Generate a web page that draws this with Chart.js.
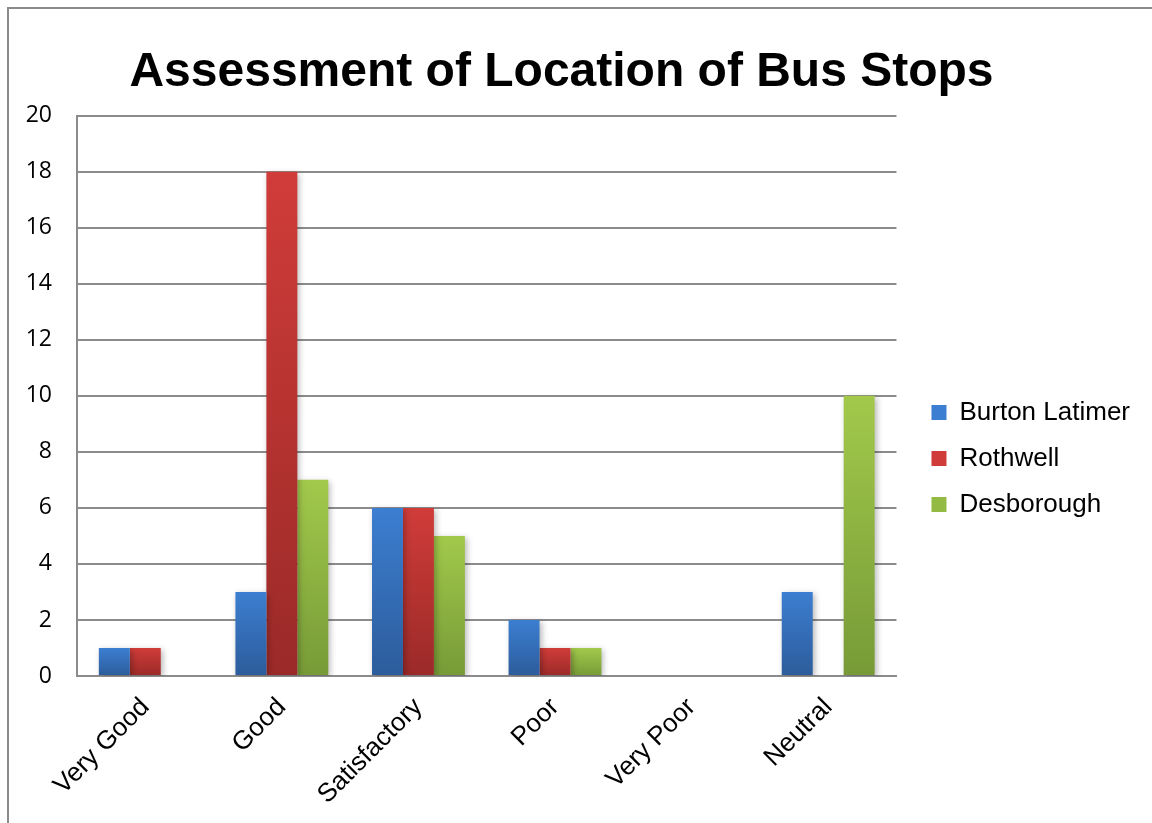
<!DOCTYPE html>
<html>
<head>
<meta charset="utf-8">
<script src="https://cdn.jsdelivr.net/npm/chart.js@4/dist/chart.umd.min.js"></script>
<style>
  html, body { margin: 0; padding: 0; background: #fff; overflow: hidden; }
  #wrap { position: relative; width: 1152px; height: 823px; }
  #frame { position: absolute; left: 7px; top: 7px; width: 1300px; height: 1000px;
           border: 2px solid #8a8a8a; box-sizing: border-box; }
  canvas { position: absolute; left: 0; top: 0; }
</style>
</head>
<body>
<div id="wrap">
  <div id="frame"></div>
  <canvas id="busChart" width="1152" height="823"></canvas>
</div>
<script>
'use strict';

// данные
const categories = ['Very Good', 'Good', 'Satisfactory', 'Poor', 'Very Poor', 'Neutral'];
const burtonLatimer = [1, 3, 6, 2, 0, 3];
const rothwell = [1, 18, 6, 1, 0, 0];
const desborough = [0, 7, 5, 1, 0, 10];
const yTicks = [0, 2, 4, 6, 8, 10, 12, 14, 16, 18, 20];

// gradient per bar: light on top, dark at the bottom
function barFill(top, bottom, solid) {
    return function (ctx) {
        const chart = ctx.chart;
        const y = chart.scales && chart.scales.y;
        if (ctx.type !== 'data' || !y || !ctx.raw) return solid;
        const y0 = y.getPixelForValue(ctx.raw);
        const y1 = y.getPixelForValue(0);
        if (!isFinite(y0) || !isFinite(y1) || y0 === y1) return solid;
        const g = chart.ctx.createLinearGradient(0, y0, 0, y1);
        g.addColorStop(0, top);
        g.addColorStop(1, bottom);
        return g;
    };
}

// soft shadow under bars
const barShadow = {
    id: 'barShadow',
    beforeDatasetsDraw(chart) {
        const c = chart.ctx;
        c.save();
        c.shadowColor = 'rgba(0,0,0,0.28)';
        c.shadowBlur = 6;
        c.shadowOffsetX = 2;
        c.shadowOffsetY = 2;
    },
    afterDatasetsDraw(chart) {
        chart.ctx.restore();
    }
};

// small nudges for title and legend placement
const nudge = {
    id: 'nudge',
    afterLayout(chart) {
        if (chart.legend) {
            chart.legend.top += 94;
            chart.legend.left += 15;
            chart.legend.right += 15;
        }
        if (chart.titleBlock) {
            chart.titleBlock.right -= 22;
        }
    }
};

const gridColor = '#8c8c8c';

new Chart(document.getElementById('busChart'), {
    type: 'bar',
    data: {
        labels: categories,
        datasets: [{
            label: 'Burton Latimer',
            data: burtonLatimer,
            backgroundColor: barFill('#3c7ed1', '#2c5c9b', '#3a72bd')
        }, {
            label: 'Rothwell',
            data: rothwell,
            backgroundColor: barFill('#d03c39', '#9a2a28', '#bf3533')
        }, {
            label: 'Desborough',
            data: desborough,
            backgroundColor: barFill('#a2c94b', '#779a37', '#93bb44')
        }]
    },
    plugins: [barShadow, nudge],
    options: {
        responsive: false,
        animation: false,
        barPercentage: 1,
        categoryPercentage: 0.68,
        layout: {
            padding: { left: 20, right: 27, top: 0, bottom: 0 }
        },
        plugins: {
            title: {
                display: true,
                text: 'Assessment of Location of Bus Stops',
                color: '#000',
                font: { family: '"Liberation Sans", Arial, sans-serif', size: 48, weight: 'bold' },
                padding: { top: 44, bottom: 14 }
            },
            legend: {
                position: 'right',
                labels: {
                    color: '#000',
                    boxWidth: 15,
                    boxHeight: 15,
                    padding: 20,
                    font: { family: '"Liberation Sans", Arial, sans-serif', size: 26 }
                }
            },
            tooltip: { enabled: false }
        },
        scales: {
            x: {
                grid: { display: false, drawTicks: false },
                border: { display: true, color: gridColor, width: 2 },
                ticks: {
                    color: '#000',
                    maxRotation: 45,
                    minRotation: 45,
                    padding: 16,
                    font: { family: '"Liberation Sans", Arial, sans-serif', size: 26 }
                },
                afterFit(scale) { scale.height = 147; }
            },
            y: {
                min: 0,
                max: 20,
                afterBuildTicks(scale) {
                    scale.ticks = yTicks.map(v => ({ value: v }));
                },
                grid: { color: gridColor, lineWidth: 2, drawTicks: false },
                border: { display: true, color: gridColor, width: 2 },
                ticks: {
                    color: '#000',
                    padding: 25,
                    font: { family: '"Open Sans", sans-serif', size: 23 }
                },
                afterFit(scale) { scale.width = 57; }
            }
        }
    }
});
</script>
</body>
</html>
